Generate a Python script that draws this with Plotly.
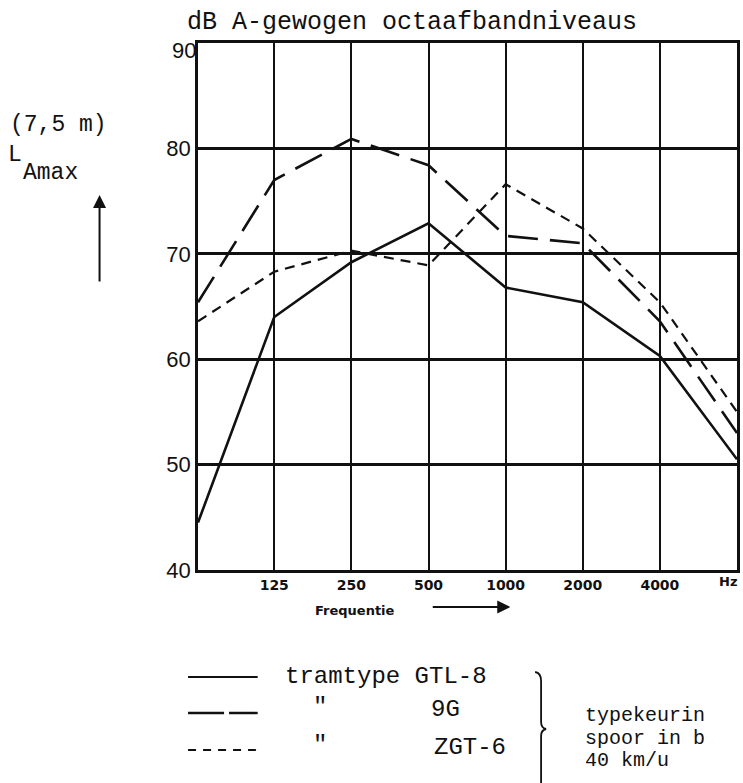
import plotly.graph_objects as go

# ---- data ----
freq_hz = [63, 125, 250, 500, 1000, 2000, 4000, 8000]
gtl8 = [44.5, 64.0, 69.2, 72.9, 66.8, 65.4, 60.3, 50.5]
g9 = [65.4, 77.0, 80.9, 78.4, 71.7, 71.0, 63.6, 53.0]
zgt6 = [63.6, 68.3, 70.3, 68.9, 76.6, 72.4, 65.4, 55.0]

x_tickvals = [125, 250, 500, 1000, 2000, 4000, 8000]
x_ticktext = ["125", "250", "500", "1000", "2000", "4000", ""]
x_unit = "Hz"
y_tickvals = [40, 50, 60, 70, 80, 90]
y_ticktext = ["40", "50", "60", "70", "80", ""]
y_top_label = "90"

# ---- layout geometry ----
W, H = 743, 783
PL, PR, PT, PB = 198, 740, 43, 570          # plot box in page pixels
L, R, T, B = PL, W - PR, PT, H - PB
PW, PH = PR - PL, PB - PT


def px(xp):
    return (xp - PL) / PW


def py(yp):
    return (PB - yp) / PH


MONO = "Liberation Mono"
BLACK = "#111111"

fig = go.Figure()
fig.add_trace(go.Scatter(x=freq_hz, y=gtl8, mode="lines", name="GTL-8",
                         line=dict(color=BLACK, width=2.6)))
fig.add_trace(go.Scatter(x=freq_hz, y=g9, mode="lines", name="9G",
                         line=dict(color=BLACK, width=2.6, dash="30px,12px")))
fig.add_trace(go.Scatter(x=freq_hz, y=zgt6, mode="lines", name="ZGT-6",
                         line=dict(color=BLACK, width=2.2, dash="10px,7px")))

fig.update_xaxes(type="log", range=[1.7993, 3.9031],
                 tickvals=x_tickvals, ticktext=x_ticktext,
                 showgrid=True, gridcolor=BLACK, gridwidth=2,
                 showline=True, mirror=True, linecolor=BLACK, linewidth=2.5,
                 zeroline=False, ticks="",
                 tickfont=dict(family="DejaVu Sans", size=14, color=BLACK, weight="bold"))
fig.update_yaxes(range=[40, 90], tickvals=y_tickvals, ticktext=y_ticktext,
                 showgrid=True, gridcolor=BLACK, gridwidth=3,
                 showline=True, mirror=True, linecolor=BLACK, linewidth=2.5,
                 zeroline=False, ticks="", ticklabelstandoff=0,
                 tickfont=dict(family="Liberation Sans", size=22, color=BLACK))

ann = []


def text(s, x, y, size=24, family=MONO, anchor="left", weight="normal"):
    ann.append(dict(text=s, x=px(x), y=py(y), xref="paper", yref="paper",
                    xanchor=anchor, yanchor="middle", showarrow=False,
                    borderpad=0,
                    font=dict(family=family, size=size, color=BLACK, weight=weight)))


text(y_top_label, 197, 51, size=22, family="Liberation Sans", anchor="right")
text(x_unit, 741, 581, size=13, family="DejaVu Sans", anchor="right", weight="bold")
text("dB A-gewogen octaafbandniveaus", 186, 22, size=25)
text("(7,5 m)", 8, 125, size=23)
text("L", 6, 155, size=23)
text("Amax", 21, 173, size=23)
text("Frequentie", 356, 610, size=13, family="DejaVu Sans", anchor="center", weight="bold")

# legend texts
text("tramtype GTL-8", 284, 676, size=24)
text('"', 313, 707, size=24)
text("9G", 431, 709, size=24)
text('"', 313, 745, size=24)
text("ZGT-6", 434, 747, size=24)
text("typekeurin", 586, 715, size=20)
text("spoor in b", 586, 738, size=20)
text("40 km/u", 586, 761, size=20)

# arrows
ann.append(dict(x=px(99), y=py(195), xref="paper", yref="paper", text="",
                showarrow=True, ax=0, ay=88, arrowhead=2, arrowsize=1.3,
                arrowwidth=2, arrowcolor=BLACK, standoff=0))
ann.append(dict(x=px(512), y=py(607), xref="paper", yref="paper", text="",
                showarrow=True, ax=-79, ay=0, arrowhead=2, arrowsize=1.3,
                arrowwidth=2, arrowcolor=BLACK, standoff=0))

shapes = []


def hline(x0, x1, y, dash="solid", width=2.2):
    shapes.append(dict(type="line", xref="paper", yref="paper",
                       x0=px(x0), x1=px(x1), y0=py(y), y1=py(y),
                       line=dict(color=BLACK, width=width, dash=dash)))


hline(188, 258, 677)
hline(188, 258, 713, dash="36px,5px", width=2.4)
hline(188, 258, 750, dash="8px,7px", width=1.8)

# brace
path = (f"M {px(537)},{py(672)} Q {px(543)},{py(673)} {px(543)},{py(681)} "
        f"L {px(543)},{py(722)} Q {px(543)},{py(728)} {px(548)},{py(729)} "
        f"Q {px(543)},{py(730)} {px(543)},{py(736)} L {px(543)},{py(783)}")
shapes.append(dict(type="path", xref="paper", yref="paper", path=path,
                   line=dict(color=BLACK, width=1.8)))

fig.update_layout(width=W, height=H, margin=dict(l=L, r=R, t=T, b=B),
                  paper_bgcolor="white", plot_bgcolor="white",
                  showlegend=False, annotations=ann, shapes=shapes)

fig.write_html("out.html", config={"displayModeBar": False},
               post_script="document.body.style.margin='0';"
                           "document.documentElement.style.overflow='hidden';")
